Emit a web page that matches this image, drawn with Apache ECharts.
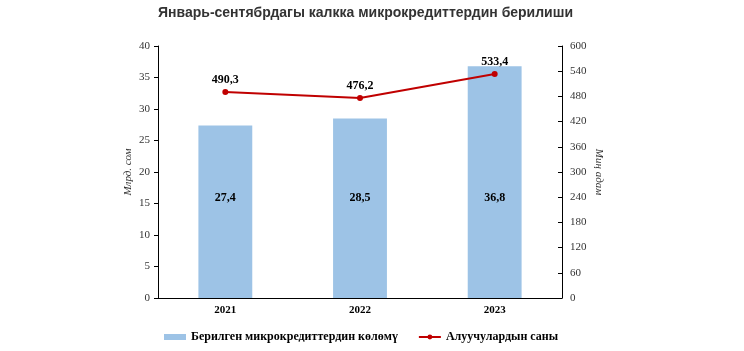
<!DOCTYPE html>
<html lang="ky">
<head>
    <meta charset="UTF-8">
    <title>Микрокредиттер</title>
    <script src="https://cdn.jsdelivr.net/npm/echarts@6/dist/echarts.min.js"></script>
    <style>
        html, body { margin: 0; padding: 0; background: #fff; }
        #main { width: 744px; height: 351px; }
    </style>
</head>
<body>
    <div id="main"></div>
    <script>
        var years = ['2021', '2022', '2023'];
        var volume = [27.4, 28.5, 36.8];          // млрд. сом
        var borrowers = [490.3, 476.2, 533.4];    // миң адам

        var serif = '"Liberation Serif", "Times New Roman", serif';
        var fmt = function (p) { return String(p.value).replace('.', ','); };

        var chart = echarts.init(document.getElementById('main'));
        chart.setOption({
            animation: false,
            title: {
                text: 'Январь-сентябрдагы калкка микрокредиттердин берилиши',
                left: 153,
                top: 1,
                textStyle: { fontFamily: '"Liberation Sans", Arial, sans-serif', fontSize: 14, fontWeight: 'bold', color: '#333' }
            },
            grid: { left: 158, right: 182, top: 46, bottom: 53 },
            legend: {
                bottom: 3,
                left: 159,
                itemGap: 20,
                itemWidth: 22,
                itemHeight: 6,
                textStyle: { fontFamily: serif, fontSize: 12, fontWeight: 'bold', color: '#000' },
                data: [
                    { name: 'Берилген микрокредиттердин көлөмү', icon: 'rect' },
                    { name: 'Алуучулардын саны' }
                ]
            },
            xAxis: {
                type: 'category',
                data: years,
                axisLine: { lineStyle: { color: '#000' } },
                axisTick: { show: false },
                axisLabel: { fontFamily: serif, fontSize: 11, fontWeight: 'bold', color: '#000', margin: 7 }
            },
            yAxis: [{
                type: 'value', min: 0, max: 40, interval: 5,
                name: 'Млрд. сом', nameLocation: 'middle', nameGap: 24, nameMoveOverlap: false,
                nameTextStyle: { fontFamily: serif, fontStyle: 'italic', fontSize: 11, color: '#333' },
                axisLine: { show: true, lineStyle: { color: '#000' } },
                axisTick: { show: true, length: 4, lineStyle: { color: '#000' } },
                axisLabel: { fontFamily: serif, fontSize: 11, color: '#333', margin: 8 },
                splitLine: { show: false }
            }, {
                type: 'value', min: 0, max: 600, interval: 60,
                name: 'Миң адам', nameLocation: 'middle', nameGap: 31, nameRotate: -90, nameMoveOverlap: false,
                nameTextStyle: { fontFamily: serif, fontStyle: 'italic', fontSize: 11, color: '#333' },
                axisLine: { show: true, lineStyle: { color: '#000' } },
                axisTick: { show: true, inside: true, length: 4, lineStyle: { color: '#000' } },
                axisLabel: { fontFamily: serif, fontSize: 11, color: '#333', margin: 8 },
                splitLine: { show: false }
            }],
            series: [{
                name: 'Берилген микрокредиттердин көлөмү',
                type: 'bar',
                data: volume,
                barWidth: '40%',
                itemStyle: { color: '#9DC3E6' },
                label: {
                    show: true, position: 'insideBottom', distance: 94, formatter: fmt,
                    fontFamily: serif, fontSize: 12, fontWeight: 'bold', color: '#000'
                }
            }, {
                name: 'Алуучулардын саны',
                type: 'line',
                yAxisIndex: 1,
                data: borrowers,
                symbol: 'circle',
                symbolSize: 6,
                itemStyle: { color: '#C00000' },
                lineStyle: { color: '#C00000', width: 2 },
                label: {
                    show: true, position: 'top', distance: 3, formatter: fmt,
                    fontFamily: serif, fontSize: 12, fontWeight: 'bold', color: '#000'
                }
            }]
        });
    </script>
</body>
</html>
